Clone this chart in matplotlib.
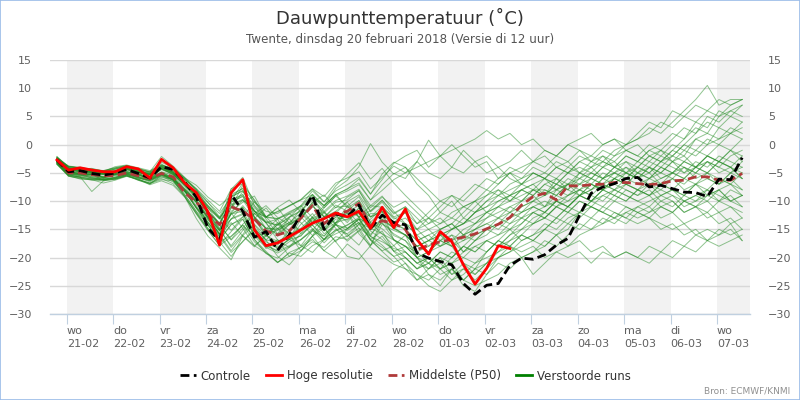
import matplotlib
matplotlib.use("Agg")
import matplotlib.pyplot as plt
from matplotlib.lines import Line2D
from matplotlib.patches import Rectangle
import pandas as pd

plt.rcParams['font.family'] = ['DejaVu Sans']

# ---------------- data ----------------
start_time = "2018-02-20 19:00"
step = "6h"
n_steps = 60

controle = [-2.7, -4.8, -4.6, -5.1, -5.4, -5.0, -4.4, -5.1, -5.9, -3.9,
            -4.4, -6.6, -9.3, -14.8, -17.0, -8.8, -11.8, -16.4, -15.4, -18.7,
            -16.0, -12.3, -9.0, -15.0, -12.3, -12.7, -10.7, -14.8, -12.5, -13.8,
            -14.2, -19.2, -20.1, -20.7, -21.3, -24.6, -26.5, -24.9, -24.6, -21.4,
            -20.1, -20.3, -19.5, -17.8, -16.6, -12.5, -8.6, -7.5, -6.9, -6.0,
            -5.8, -7.5, -7.2, -7.8, -8.4, -8.5, -9.2, -6.1, -6.2, -2.3]

hoge_resolutie = [-2.7, -4.5, -4.1, -4.5, -4.8, -4.8, -3.9, -4.3, -5.9, -2.6,
                  -4.1, -6.8, -8.5, -11.9, -17.8, -8.5, -6.2, -15.1, -17.9, -17.4,
                  -16.3, -15.1, -13.9, -13.1, -12.1, -12.8, -11.8, -14.8, -11.1, -14.7,
                  -11.4, -16.8, -19.4, -15.4, -17.2, -21.3, -24.7, -21.9, -17.9, -18.4]

middelste = [-2.7, -5.0, -5.0, -5.3, -5.5, -5.5, -5.0, -5.5, -6.0, -5.1,
             -5.7, -8.5, -10.2, -12.3, -14.2, -11.0, -11.8, -13.2, -15.3, -16.0,
             -15.3, -13.0, -10.8, -14.0, -12.3, -11.8, -10.4, -14.5, -13.5, -13.9,
             -15.0, -18.6, -17.8, -17.2, -16.8, -16.4, -15.8, -14.9, -14.1, -12.9,
             -10.7, -9.2, -8.6, -9.8, -7.3, -7.3, -7.1, -7.0, -6.7, -6.7,
             -6.9, -7.1, -6.9, -6.4, -6.3, -5.7, -5.7, -6.3, -6.3, -5.1]

run_01 = [-2.9,-4.7,-5.2,-5.4,-5.8,-5.3,-4.9,-5.4,-6.1,-4.3, -5.2,-7.4,-10.3,-13.8,-16.6,-10.4,-12.3,-16.1,-15.8,-18.6,
          -16.7,-13.2,-10.4,-15.3,-12.8,-13.4,-11.2,-15.1,-13.4,-14.7, -16,-20,-21,-22,-21,-24,-25,-24,-23,-21,
          -20,-19,-18,-16,-15,-12,-10,-9,-8,-7, -8,-9,-8,-9,-10,-9,-10,-8,-7,-5]
run_02 = [-2.4,-4.2,-4.4,-4.9,-5.1,-4.7,-4.1,-4.8,-5.6,-3.7, -4.6,-6.3,-9.1,-12.4,-15.2,-12.1,-9.8,-11.6,-14.9,-13.2,
          -16.8,-17.9,-15.2,-12.6,-14.8,-17.1,-15.3,-13.2,-11.3,-13.8, -12,-17,-19,-16,-18,-21,-23,-21,-18,-17,
          -16,-14,-13,-11,-10,-9,-8,-7,-8,-6, -7,-6,-5,-6,-4,-5,-3,-4,-2,-1]
run_03 = [-3.1,-5.3,-5.4,-5.8,-6.2,-5.9,-5.2,-5.7,-6.4,-5.3, -6.1,-8.2,-10.1,-12.2,-14.3,-16.8,-14.1,-12.2,-13.8,-16.9,
          -18.2,-15.7,-13.1,-11.8,-14.2,-12.1,-15.8,-17.9,-14.1,-15.2, -16,-18,-17,-16,-15,-14,-13,-12,-11,-10,
          -9,-8,-8,-9,-7,-7,-6,-7,-6,-5, -6,-7,-6,-5,-4,-5,-3,-4,-5,-3]
run_04 = [-2.2,-4.1,-4.7,-4.6,-4.9,-4.3,-3.8,-4.6,-5.2,-3.4, -4.8,-6.9,-8.7,-10.8,-12.9,-10.6,-9.7,-11.8,-13.6,-14.3,
          -12.8,-11.7,-9.3,-10.8,-7.8,-6.3,-3.9,0.2,-3.1,-5.2, -4,-7,-9,-12,-10,-13,-11,-9,-8,-10,
          -8,-9,-7,-6,-8,-5,-6,-4,-5,-3, -4,-2,-3,-1,1,3,2,5,6,7]
run_05 = [-3.4,-5.6,-5.9,-6.3,-6.1,-6.2,-5.4,-6.3,-6.9,-6.2, -6.4,-9.1,-12.3,-15.2,-17.8,-15.4,-13.2,-16.8,-19.3,-20.1,
          -18.2,-16.9,-15.1,-17.4,-15.3,-14.2,-13.1,-16.3,-17.2,-18.4, -19,-21,-22,-20,-21,-19,-18,-17,-16,-15,
          -17,-16,-15,-13,-14,-12,-13,-11,-12,-13, -14,-13,-15,-14,-16,-15,-17,-16,-15,-17]
run_06 = [-2.6,-3.9,-4.1,-4.3,-4.6,-4.1,-3.7,-4.2,-4.8,-2.1, -3.8,-5.8,-7.9,-11.2,-14.1,-7.8,-6.9,-12.8,-15.7,-15.2,
          -13.8,-12.1,-8.8,-12.9,-10.7,-11.8,-9.9,-13.7,-11.8,-16.9, -18,-20,-23,-24,-22,-25,-26,-23,-20,-19,
          -18,-17,-15,-13,-11,-9,-7,-8,-6,-7, -5,-6,-4,-5,-3,-4,-2,-3,-4,-2]
run_07 = [-2.8,-4.4,-4.8,-5.1,-5.3,-5.1,-4.3,-4.9,-5.4,-3.9, -5.1,-7.2,-9.3,-12.1,-14.8,-18.2,-15.9,-13.1,-11.2,-13.9,
          -15.8,-12.1,-14.3,-16.2,-13.8,-10.9,-12.8,-11.7,-9.8,-12.3, -11,-14,-13,-11,-9,-10,-8,-6,-7,-5,
          -6,-4,-5,-3,-4,-2,-3,-1,-2,0, 1,3,2,4,6,8,10.5,7,8,8]
run_08 = [-3.0,-5.1,-5.3,-5.2,-5.9,-5.4,-5.1,-5.3,-6.2,-5.1, -6.3,-8.3,-11.2,-13.3,-15.9,-13.2,-12.4,-15.2,-17.7,-18.1,
          -16.8,-16.2,-13.8,-15.1,-13.2,-12.8,-12.1,-14.8,-15.8,-17.9, -20,-22,-21,-19,-20,-18,-16,-15,-13,-14,
          -12,-11,-10,-11,-9,-8,-9,-7,-8,-9, -10,-9,-11,-10,-12,-11,-10,-12,-11,-13]
run_09 = [-2.3,-3.8,-4.2,-4.7,-4.8,-3.9,-3.6,-4.1,-4.6,-3.6, -4.2,-5.9,-7.2,-9.3,-10.8,-9.1,-7.7,-10.2,-11.8,-12.2,
          -10.8,-9.8,-7.9,-10.1,-8.2,-7.1,-5.8,-8.7,-6.2,-3.3, -2,-1,-4,-2,0,-2,-4,-3,-6,-5,
          -7,-5,-6,-8,-7,-9,-8,-6,-7,-5, -6,-4,-5,-3,-5,-4,-2,-3,-1,-2]
run_10 = [-3.2,-5.2,-5.6,-5.3,-6.3,-5.8,-5.3,-5.8,-6.6,-5.4, -6.2,-8.1,-11.3,-14.2,-17.2,-19.8,-17.1,-15.2,-18.4,-16.8,
          -19.8,-18.1,-16.2,-18.8,-20.1,-17.6,-19.2,-21.7,-25.1,-22.3, -21,-23,-24,-22,-24,-23,-21,-20,-19,-18,
          -20,-19,-17,-18,-16,-14,-15,-13,-14,-12, -11,-10,-9,-8,-9,-7,-6,-7,-5,-4]
run_11 = [-2.7,-4.3,-4.5,-5.0,-5.2,-4.8,-4.4,-5.1,-5.8,-4.2, -5.3,-7.1,-9.8,-12.8,-15.8,-11.2,-8.3,-10.8,-13.9,-16.2,
          -14.1,-11.3,-13.8,-11.9,-14.1,-16.3,-14.1,-12.2,-12.3,-14.1, -15,-17,-16,-15,-14,-16,-15,-13,-12,-11,
          -10,-9,-11,-8,-7,-8,-6,-7,-5,-6, -4,-5,-3,-2,0,2,4,3,5,4]
run_12 = [-3.3,-5.4,-5.7,-8.3,-6.4,-6.1,-5.6,-6.2,-6.8,-5.6, -6.6,-8.4,-10.2,-12.9,-15.3,-12.3,-11.1,-14.1,-16.2,-17.1,
          -16.3,-15.2,-13.3,-15.2,-13.8,-13.2,-12.2,-15.3,-16.8,-18.8, -20,-22,-20,-21,-19,-20,-18,-19,-17,-18,
          -16,-17,-18,-16,-18,-17,-19,-18,-20,-19, -20,-18,-19,-17,-18,-16,-17,-15,-16,-15]
run_13 = [-2.1,-4.0,-4.3,-4.2,-4.7,-4.4,-3.9,-4.3,-4.9,-3.8, -4.4,-6.2,-8.1,-10.3,-12.2,-9.3,-8.1,-11.2,-12.8,-13.1,
          -12.3,-11.1,-9.2,-11.2,-9.1,-8.2,-7.1,-9.8,-8.1,-6.2, -5,-4,-3,-2,-1,0,1,2.5,1,2,
          0,1,-1,-2,0,-1,-3,-2,-4,-3, -5,-4,-6,-5,-3,-4,-2,-3,-1,-3]
run_14 = [-3.0,-5.0,-5.1,-5.7,-5.9,-5.2,-5.0,-5.9,-6.3,-5.2, -6.2,-8.2,-11.1,-13.7,-16.3,-12.3,-11.8,-15.3,-17.2,-18.3,
          -16.8,-15.3,-12.9,-15.8,-14.2,-14.8,-13.2,-16.8,-15.3,-18.9, -21,-24,-22,-20,-23,-21,-22,-19,-17,-15,
          -14,-12,-11,-10,-11,-9,-10,-8,-9,-7, -8,-6,-7,-5,-6,-4,-5,-3,-4,-6]
run_15 = [-2.5,-4.4,-4.9,-4.8,-5.0,-5.2,-4.2,-4.7,-5.3,-4.1, -4.9,-6.8,-9.2,-11.8,-14.2,-16.9,-14.8,-12.2,-10.8,-12.9,
          -14.2,-13.1,-10.2,-8.9,-11.2,-9.3,-8.2,-11.2,-9.3,-11.1, -10,-12,-14,-13,-15,-14,-12,-10,-9,-8,
          -7,-6,-5,-6,-4,-5,-3,-4,-2,-1, -2,0,-1,1,3,2,5,4,6,5]
run_16 = [-3.5,-5.5,-6.1,-6.2,-6.8,-6.3,-5.6,-6.1,-7.1,-6.4, -7.2,-9.3,-12.1,-14.8,-17.1,-16.2,-14.3,-16.2,-18.2,-19.2,
          -18.1,-16.8,-15.3,-16.2,-14.1,-15.2,-13.8,-16.8,-18.2,-19.8, -19,-21,-20,-22,-20,-18,-19,-17,-18,-16,
          -15,-14,-13,-14,-12,-13,-11,-12,-13,-11, -12,-13,-11,-12,-10,-11,-12,-10,-11,-12]
run_17 = [-2.8,-4.3,-4.6,-5.0,-5.1,-4.9,-4.1,-4.8,-5.1,-3.8, -5.0,-6.7,-8.9,-11.2,-13.1,-9.8,-8.8,-12.2,-13.8,-13.2,
          -12.1,-10.8,-8.2,-10.2,-7.3,-5.2,-3.2,-6.1,-4.2,-6.8, -9,-11,-13,-15,-14,-16,-14,-13,-11,-12,
          -10,-8,-9,-7,-8,-6,-7,-5,-6,-4, -5,-3,-4,-2,-3,-1,-2,0,-1,1]
run_18 = [-3.1,-4.8,-5.2,-5.3,-5.7,-5.1,-4.7,-5.4,-5.9,-4.8, -5.4,-7.8,-10.2,-12.9,-15.9,-12.1,-14.8,-17.9,-16.2,-14.1,
          -15.9,-18.8,-16.2,-14.2,-12.3,-14.9,-13.2,-13.8,-15.8,-16.9, -18,-19,-18,-17,-16,-17,-15,-14,-13,-12,
          -11,-10,-9,-8,-9,-7,-8,-6,-5,-6, -4,-5,-3,-4,-5,-3,-4,-2,-3,-4]
run_19 = [-3.2,-5.1,-5.5,-5.9,-6.2,-5.7,-5.2,-5.8,-6.3,-5.3, -5.8,-8.1,-11.2,-14.3,-16.8,-13.1,-12.2,-15.8,-17.8,-18.8,
          -17.2,-16.1,-14.2,-16.8,-15.1,-14.3,-12.9,-16.2,-17.8,-19.8, -22,-23,-25,-26,-24,-22,-23,-21,-19,-17,
          -15,-13,-12,-10,-9,-8,-7,-8,-6,-7, -8,-7,-9,-8,-10,-9,-8,-10,-9,-11]
run_20 = [-2.6,-4.2,-4.4,-4.8,-5.1,-4.8,-4.3,-5.0,-5.4,-4.3, -5.1,-7.0,-9.1,-12.2,-14.9,-11.8,-10.2,-9.1,-12.8,-14.9,
          -13.1,-15.8,-14.2,-12.1,-13.9,-11.8,-13.9,-14.8,-13.2,-14.8, -14,-16,-15,-14,-13,-14,-12,-11,-10,-9,
          -8,-7,-6,-7,-5,-6,-4,-3,-4,-2, -3,-1,0,2,1,4,3,6,5,7]
run_21 = [-3.3,-5.4,-5.8,-6.1,-6.3,-6.0,-5.4,-6.2,-6.8,-6.0, -6.9,-9.2,-12.2,-15.1,-17.9,-16.3,-14.2,-17.2,-19.1,-20.8,
          -19.8,-18.8,-17.2,-18.2,-16.3,-16.8,-15.2,-18.2,-19.8,-21.2, -22,-24,-23,-25,-22,-24,-22,-21,-20,-18,
          -19,-18,-20,-19,-20,-19,-21,-19,-20,-19, -20,-21,-19,-20,-18,-19,-17,-18,-17,-16]
run_22 = [-2.4,-3.9,-4.1,-4.6,-4.7,-4.2,-3.8,-4.6,-5.1,-3.7, -4.1,-6.1,-7.8,-9.8,-11.8,-7.9,-5.8,-10.8,-12.8,-11.9,
          -10.8,-9.7,-7.8,-9.2,-6.8,-5.9,-4.8,-7.8,-5.8,-3.8, -5,-3,-5,-6,-4,-5,-3,-2,-4,-3,
          -1,-3,-2,-4,-3,-5,-4,-6,-5,-4, -6,-5,-7,-6,-8,-7,-9,-8,-10,-9]
run_23 = [-2.9,-4.9,-5.0,-5.3,-5.8,-5.2,-4.8,-5.3,-6.0,-5.0, -5.9,-7.9,-9.9,-12.8,-15.2,-17.9,-15.2,-13.1,-16.2,-14.1,
          -12.2,-13.8,-16.1,-13.2,-11.9,-13.8,-11.2,-12.8,-10.9,-13.2, -12,-15,-17,-18,-16,-19,-17,-15,-14,-12,
          -13,-11,-12,-10,-11,-9,-10,-8,-9,-10, -8,-9,-7,-8,-6,-7,-5,-6,-7,-8]
run_24 = [-2.3,-4.3,-4.8,-4.9,-5.0,-4.9,-4.2,-4.9,-5.2,-4.0, -4.9,-6.8,-8.8,-11.8,-13.9,-10.9,-9.8,-12.9,-14.8,-15.1,
          -14.1,-12.9,-10.9,-12.8,-11.8,-10.1,-8.9,-11.9,-10.2,-12.8, -12,-14,-12,-10,-11,-9,-7,-8,-6,-4,
          -5,-3,-4,-2,-3,-1,-2,0,1,0, 2,4,3,6,5,7,6,8,7,8]
run_25 = [-3.4,-5.3,-5.8,-6.0,-6.2,-5.9,-5.3,-6.0,-6.4,-5.5, -6.3,-9.2,-13.1,-16.2,-18.3,-20.4,-16.1,-17.9,-19.2,-20.9,
          -19.1,-18.2,-16.8,-18.8,-16.9,-16.2,-14.8,-17.8,-16.2,-18.9, -18,-20,-19,-17,-18,-16,-15,-14,-15,-13,
          -12,-11,-12,-10,-11,-9,-10,-8,-7,-8, -9,-8,-10,-9,-11,-10,-9,-8,-10,-9]
run_26 = [-2.7,-4.2,-4.3,-4.9,-5.2,-4.6,-4.2,-4.9,-5.3,-4.2, -4.8,-6.9,-8.9,-11.1,-13.2,-9.2,-8.2,-11.8,-13.8,-14.2,
          -12.9,-11.8,-9.8,-11.8,-9.9,-9.1,-7.9,-10.8,-9.1,-11.8, -14,-16,-18,-16,-17,-15,-14,-12,-10,-9,
          -8,-9,-7,-8,-6,-7,-5,-6,-4,-5, -3,-4,-2,-3,-1,-2,0,1,2,3]
run_27 = [-3.0,-4.9,-5.4,-5.6,-6.0,-5.5,-5.1,-5.6,-6.2,-5.1, -6.0,-8.1,-10.2,-13.1,-15.8,-13.8,-16.2,-18.1,-15.9,-13.8,
          -15.2,-17.9,-19.1,-16.8,-14.2,-15.9,-17.8,-14.8,-13.9,-15.8, -17,-19,-21,-19,-20,-18,-19,-17,-18,-16,
          -14,-12,-13,-11,-12,-10,-11,-9,-10,-8, -9,-7,-8,-6,-7,-5,-6,-7,-5,-6]
run_28 = [-2.5,-3.8,-4.0,-4.5,-4.6,-4.1,-3.7,-4.3,-4.8,-3.6, -4.3,-6.1,-7.9,-10.2,-12.8,-8.8,-7.8,-11.8,-12.9,-13.1,
          -11.9,-10.9,-8.8,-10.8,-8.9,-7.8,-6.8,-9.8,-7.1,-5.1, -6,-3,0.8,-2,-4,-1,-3,-5,-4,-6,
          -7,-5,-6,-4,-5,-3,-4,-2,-3,-1, -2,-3,-1,-2,0,-1,1,0,2,1]
run_29 = [-3.1,-5.0,-5.2,-5.4,-5.6,-5.3,-4.9,-5.2,-6.1,-4.9, -5.9,-8.2,-11.1,-13.9,-16.2,-19.1,-17.2,-14.8,-16.9,-19.8,
          -21.3,-18.9,-16.2,-14.8,-17.2,-19.8,-20.3,-17.9,-13.2,-16.1, -17,-20,-22,-21,-23,-22,-24,-22,-20,-19,
          -17,-16,-14,-15,-13,-12,-11,-12,-10,-11, -12,-11,-13,-12,-14,-13,-12,-14,-13,-15]
run_30 = [-2.8,-4.3,-4.7,-4.9,-5.1,-4.8,-4.4,-4.8,-5.7,-4.3, -5.2,-7.1,-9.3,-11.9,-14.1,-10.2,-9.1,-12.9,-14.9,-15.8,
          -14.2,-12.8,-10.2,-12.1,-10.2,-9.8,-8.1,-11.8,-9.9,-12.1, -11,-13,-15,-17,-15,-14,-12,-11,-9,-10,
          -8,-7,-9,-6,-7,-5,-6,-4,-3,-5, -4,-2,-3,-1,-2,1,0,3,2,4]
run_31 = [-2.9,-4.6,-4.9,-5.1,-5.3,-5.0,-4.5,-5.2,-5.8,-4.4, -5.3,-7.2,-9.2,-12.1,-15.1,-11.1,-7.2,-9.8,-12.8,-11.2,
          -13.9,-15.2,-12.8,-10.9,-8.8,-11.2,-9.9,-12.8,-11.8,-13.8, -13,-15,-14,-12,-13,-11,-10,-8,-9,-7,
          -6,-5,-6,-4,-5,-3,-2,-3,-1,0, 1,2,4,3,5,4,6,5,7,8]
run_32 = [-3.3,-5.5,-5.7,-6.1,-6.1,-6.0,-5.5,-6.1,-6.9,-5.8, -6.2,-8.8,-11.8,-14.2,-16.8,-14.1,-13.2,-16.8,-18.9,-20.9,
          -19.2,-19.8,-17.9,-16.8,-15.1,-15.8,-14.1,-16.9,-18.8,-17.9, -16,-18,-17,-16,-15,-13,-14,-12,-13,-11,
          -12,-10,-11,-9,-10,-8,-9,-10,-8,-9, -10,-11,-9,-10,-12,-11,-13,-12,-14,-13]
run_33 = [-2.2,-3.9,-4.2,-4.4,-4.9,-4.3,-3.9,-4.4,-4.9,-3.1, -4.1,-5.9,-8.2,-10.8,-12.9,-15.2,-12.8,-10.1,-13.2,-15.8,
          -12.9,-10.8,-12.9,-14.8,-12.1,-10.2,-12.8,-14.9,-11.2,-13.9, -15,-17,-16,-18,-17,-19,-17,-16,-14,-13,
          -11,-10,-8,-9,-7,-6,-5,-6,-4,-5, -6,-4,-5,-3,-4,-6,-5,-7,-6,-8]
run_34 = [-2.7,-4.1,-4.3,-4.8,-4.9,-4.7,-4.0,-4.7,-5.3,-3.9, -4.7,-6.8,-8.8,-10.9,-13.1,-9.9,-8.9,-11.8,-12.8,-11.8,
          -10.9,-9.8,-8.9,-10.8,-8.8,-7.9,-6.1,-8.8,-5.2,-3.1, -4,-6,-8,-10,-9,-11,-10,-12,-11,-9,
          -10,-8,-9,-7,-8,-9,-7,-8,-6,-7, -5,-6,-4,-5,-6,-4,-5,-3,-4,-5]
run_35 = [-3.2,-5.2,-5.3,-5.9,-6.1,-5.8,-5.3,-5.9,-6.3,-5.3, -6.1,-8.2,-10.8,-13.8,-15.9,-18.8,-16.1,-14.2,-16.9,-14.8,
          -16.8,-14.1,-12.2,-14.8,-17.2,-14.9,-13.2,-15.9,-13.8,-16.8, -19,-21,-20,-22,-21,-20,-21,-19,-17,-18,
          -16,-17,-15,-16,-14,-15,-13,-14,-12,-13, -11,-12,-10,-11,-9,-10,-8,-9,-10,-11]
run_36 = [-2.5,-4.4,-4.7,-4.8,-5.2,-4.9,-4.3,-4.9,-5.2,-4.2, -5.0,-6.9,-8.9,-11.8,-14.1,-10.1,-9.2,-12.8,-14.8,-14.9,
          -13.8,-12.9,-10.8,-12.8,-11.1,-10.9,-9.2,-12.8,-11.9,-14.8, -16,-18,-17,-15,-14,-12,-10,-9,-7,-5,
          -4,-3,-1,-2,0,1,2,0,1,-1, 0,-2,-1,-3,-2,-4,-3,-5,-4,-6]
run_37 = [-3.0,-4.8,-5.1,-5.2,-5.7,-5.2,-4.8,-5.2,-5.9,-4.9, -5.8,-7.9,-9.9,-12.9,-15.1,-13.2,-10.8,-13.2,-15.9,-17.8,
          -15.1,-12.8,-14.9,-16.8,-13.9,-12.1,-14.8,-16.2,-12.8,-14.9, -16,-18,-19,-17,-18,-17,-16,-15,-16,-14,
          -13,-14,-12,-13,-11,-12,-10,-11,-9,-10, -8,-9,-7,-8,-9,-7,-8,-6,-7,-9]
run_38 = [-3.5,-5.6,-6.0,-6.2,-6.4,-6.1,-5.5,-6.3,-7.0,-5.4, -6.3,-8.9,-11.9,-14.9,-16.9,-14.2,-12.8,-15.9,-17.9,-18.9,
          -17.9,-16.8,-14.9,-16.9,-15.8,-14.9,-13.8,-16.9,-18.9,-20.8, -20,-22,-21,-23,-22,-24,-22,-23,-21,-22,
          -20,-23,-21,-19,-18,-16,-15,-14,-13,-12, -13,-12,-11,-12,-10,-11,-9,-10,-8,-9]
run_39 = [-2.4,-4.1,-4.5,-4.7,-5.0,-4.6,-4.1,-4.6,-5.0,-4.0, -4.9,-7.1,-9.1,-11.9,-13.9,-9.9,-6.8,-9.9,-12.9,-11.1,
          -9.8,-11.9,-13.8,-11.2,-9.1,-10.8,-12.9,-10.8,-11.1,-12.9, -14,-15,-13,-14,-12,-11,-12,-10,-8,-9,
          -7,-8,-6,-7,-5,-4,-5,-3,-4,-2, -3,-1,-2,0,-1,1,2,1,3,2]
run_40 = [-3.1,-4.9,-5.1,-5.3,-5.8,-5.3,-5.0,-5.7,-6.1,-5.2, -6.0,-8.0,-10.1,-13.2,-15.8,-12.2,-11.1,-14.8,-16.9,-17.2,
          -15.9,-14.8,-12.8,-14.9,-12.8,-11.9,-10.8,-13.8,-14.9,-16.8, -18,-20,-19,-18,-17,-16,-17,-15,-14,-15,
          -13,-12,-13,-11,-12,-10,-11,-12,-13,-14, -12,-13,-14,-15,-14,-16,-15,-16,-14,-17]

verstoorde_runs = [run_01, run_02, run_03, run_04, run_05, run_06, run_07, run_08, run_09, run_10,
                   run_11, run_12, run_13, run_14, run_15, run_16, run_17, run_18, run_19, run_20,
                   run_21, run_22, run_23, run_24, run_25, run_26, run_27, run_28, run_29, run_30,
                   run_31, run_32, run_33, run_34, run_35, run_36, run_37, run_38, run_39, run_40]

day_names = ['wo', 'do', 'vr', 'za', 'zo', 'ma', 'di', 'wo', 'do', 'vr', 'za', 'zo', 'ma', 'di', 'wo']
day_dates = ['21-02', '22-02', '23-02', '24-02', '25-02', '26-02', '27-02', '28-02',
             '01-03', '02-03', '03-03', '04-03', '05-03', '06-03', '07-03']
y_ticks = [-30, -25, -20, -15, -10, -5, 0, 5, 10, 15]

title = "Dauwpunttemperatuur (˚C)"
subtitle = "Twente, dinsdag 20 februari 2018 (Versie di 12 uur)"
credit = "Bron: ECMWF/KNMI"

# ---------------- figure ----------------
times = pd.date_range(start_time, periods=n_steps, freq=step)
days = pd.date_range("2018-02-21", periods=len(day_names), freq="1D")

fig = plt.figure(figsize=(8, 4), dpi=100)
ax = fig.add_axes([50/800, 1-314/400, 700/800, 254/400])

x_left = pd.Timestamp("2018-02-21") - pd.Timedelta(hours=8.6)
x_right = pd.Timestamp("2018-02-21") + pd.Timedelta(days=14.71)
ax.set_xlim(x_left, x_right)
ax.set_ylim(-30, 15)

for i, d in enumerate(days):
    if i % 2 == 0:
        ax.axvspan(d, d + pd.Timedelta(days=1), color='#F2F2F2', lw=0, zorder=0)

ax.set_yticks(y_ticks)
ax.grid(axis='y', color='#D8D8D8', lw=1, zorder=1)
ax.grid(axis='x', visible=False)

green = '#228B22'
for run in verstoorde_runs:
    ax.plot(times[:len(run)], run, color=green, lw=0.7, alpha=0.5, zorder=2)

dash = (0, (3.2, 1.6))
ax.plot(times[:len(middelste)], middelste, color='#B03A3A', lw=2, ls=dash, zorder=3)
ax.plot(times[:len(controle)], controle, color='black', lw=2, ls=dash, zorder=4)
ax.plot(times[:len(hoge_resolutie)], hoge_resolutie, color='#FF0000', lw=2, zorder=5)

for s in ['top', 'left', 'right']:
    ax.spines[s].set_visible(False)
ax.spines['bottom'].set_color('#C0D0E0')
ax.spines['bottom'].set_linewidth(1)

ax.set_xticks(days)
ax.set_xticklabels([f"{n}\n{d}" for n, d in zip(day_names, day_dates)],
                   ha='left', fontsize=8, color='#606060', linespacing=1.3)
ax.tick_params(axis='x', length=7, color='#C0D0E0', pad=2)
ax.tick_params(axis='y', length=0, labelsize=8, labelcolor='#606060', pad=13,
               labelleft=True, labelright=True)

fig.text(0.5, 1-18/400, title, ha='center', va='center', fontsize=13, color='#333333')
fig.text(0.5, 1-40/400, subtitle, ha='center', va='center', fontsize=8.6, color='#555555')
fig.text(790/800, 1-391/400, credit, ha='right', va='center', fontsize=6.5, color='#909090')

handles = [
    Line2D([], [], color='black', lw=2, ls=dash),
    Line2D([], [], color='#FF0000', lw=2),
    Line2D([], [], color='#B03A3A', lw=2, ls=dash),
    Line2D([], [], color='#008000', lw=2),
]
labels = ['Controle', 'Hoge resolutie', 'Middelste (P50)', 'Verstoorde runs']
fig.legend(handles, labels, loc='center', bbox_to_anchor=(405/800, 1-376/400), ncol=4,
           frameon=False, fontsize=8.5, handlelength=1.36, handletextpad=0.42,
           columnspacing=1.27, labelcolor='#333333', borderpad=0, borderaxespad=0)

fig.add_artist(Rectangle((0.0006, 0.0012), 0.9988, 0.9976, transform=fig.transFigure,
                         fill=False, edgecolor='#99BBE8', lw=1.2))

fig.savefig("out.png", dpi=100)
